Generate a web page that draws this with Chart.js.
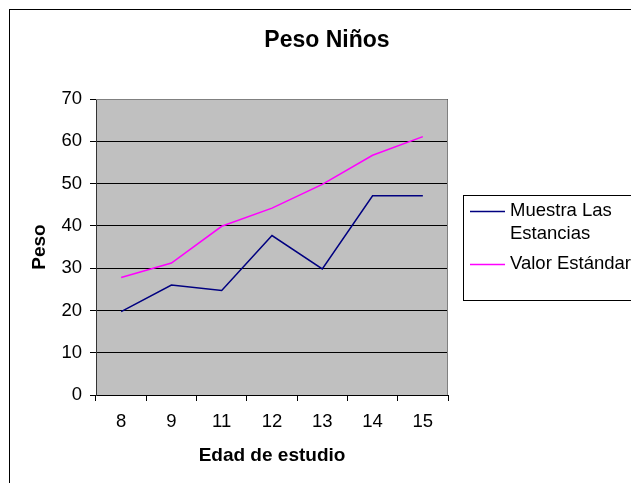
<!DOCTYPE html>
<html>
<head>
<meta charset="utf-8">
<script src="https://cdn.jsdelivr.net/npm/chart.js@4/dist/chart.umd.min.js"></script>
<style>
  html, body { margin: 0; padding: 0; background: #ffffff; overflow: hidden; }
  canvas { display: block; }
</style>
</head>
<body>
<canvas id="chart" width="631" height="483"></canvas>
<script>
// Edad de estudio (años)
const categories = ['8', '9', '11', '12', '13', '14', '15'];
// Peso medido en la muestra
const muestraLasEstancias = [19.7, 26.0, 24.7, 37.7, 29.8, 47.1, 47.1];
// Peso de referencia
const valorEstandar = [27.8, 31.2, 39.9, 44.2, 49.8, 56.7, 61.1];
const yTicks = [0, 10, 20, 30, 40, 50, 60, 70];

const chartTitle = 'Peso Niños';
const xTitle = 'Edad de estudio';
const yTitle = 'Peso';
const seriesNames = ['Muestra Las Estancias', 'Valor Estándar'];

const FONT = '"Liberation Sans", Arial, sans-serif';

// Fondo gris del área de trazado, marco exterior y título
const framePlugin = {
  id: 'frame',
  beforeDraw(chart) {
    const { ctx, chartArea: a } = chart;
    ctx.save();
    ctx.fillStyle = '#ffffff';
    ctx.fillRect(0, 0, chart.width, chart.height);
    ctx.fillStyle = '#c0c0c0';
    ctx.fillRect(a.left, a.top, a.right - a.left, a.bottom - a.top);
    ctx.strokeStyle = '#000000';
    ctx.lineWidth = 1;
    ctx.strokeRect(9.5, 9.5, chart.width + 20, chart.height + 20);
    ctx.fillStyle = '#000000';
    ctx.font = 'bold 23px ' + FONT;
    ctx.textAlign = 'center';
    ctx.textBaseline = 'middle';
    ctx.fillText(chartTitle, 327, 41);
    ctx.restore();
  },
  afterDatasetsDraw(chart) {
    const { ctx, chartArea: a } = chart;
    ctx.save();
    ctx.strokeStyle = '#808080';
    ctx.lineWidth = 1;
    ctx.beginPath();
    ctx.moveTo(a.left, Math.round(a.top) + 0.5);
    ctx.lineTo(Math.round(a.right) - 0.5, Math.round(a.top) + 0.5);
    ctx.lineTo(Math.round(a.right) - 0.5, a.bottom);
    ctx.stroke();
    ctx.restore();
  }
};

// Leyenda con recuadro a la derecha
const boxLegendPlugin = {
  id: 'boxLegend',
  afterDraw(chart) {
    const { ctx } = chart;
    const box = { x: 463.5, y: 195.5, w: 300, h: 105 };
    ctx.save();
    ctx.fillStyle = '#ffffff';
    ctx.fillRect(box.x, box.y, box.w, box.h);
    ctx.strokeStyle = '#000000';
    ctx.lineWidth = 1;
    ctx.strokeRect(box.x, box.y, box.w, box.h);
    ctx.font = '18.5px ' + FONT;
    ctx.textAlign = 'left';
    ctx.textBaseline = 'middle';
    const maxW = 130;
    const lineH = 22.6;
    let y = 211;
    chart.data.datasets.forEach(ds => {
      // partir la etiqueta en renglones
      const words = ds.label.split(' ');
      const lines = [];
      let cur = '';
      words.forEach(w => {
        const t = cur ? cur + ' ' + w : w;
        if (cur && ctx.measureText(t).width > maxW) { lines.push(cur); cur = w; }
        else cur = t;
      });
      if (cur) lines.push(cur);
      ctx.strokeStyle = ds.borderColor;
      ctx.lineWidth = 1.5;
      ctx.beginPath();
      ctx.moveTo(470, Math.round(y) + 0.5);
      ctx.lineTo(505, Math.round(y) + 0.5);
      ctx.stroke();
      ctx.fillStyle = '#000000';
      lines.forEach((ln, i) => ctx.fillText(ln, 510, y + i * lineH));
      y += lines.length * lineH + 7.5;
    });
    ctx.restore();
  }
};

new Chart(document.getElementById('chart'), {
  type: 'line',
  data: {
    labels: categories,
    datasets: [
      {
        label: seriesNames[0],
        data: muestraLasEstancias,
        borderColor: '#000080',
        borderWidth: 1.5,
        pointRadius: 0,
        tension: 0,
        fill: false
      },
      {
        label: seriesNames[1],
        data: valorEstandar,
        borderColor: '#ff00ff',
        borderWidth: 1.5,
        pointRadius: 0,
        tension: 0,
        fill: false
      }
    ]
  },
  options: {
    responsive: false,
    devicePixelRatio: 1,
    animation: false,
    events: [],
    layout: { padding: { left: 10, top: 99, right: 183, bottom: 0 } },
    plugins: {
      legend: { display: false },
      title: { display: false },
      tooltip: { enabled: false }
    },
    scales: {
      x: {
        type: 'category',
        offset: true,
        afterFit(scale) { scale.height = 88; },
        grid: {
          offset: true,
          drawOnChartArea: false,
          drawTicks: true,
          tickLength: 6,
          color: '#000000'
        },
        border: { display: true, color: '#000000', width: 1 },
        ticks: {
          color: '#000000',
          font: { family: FONT, size: 18.5 },
          padding: 10,
          maxRotation: 0
        },
        title: {
          display: true,
          text: xTitle,
          color: '#000000',
          font: { family: FONT, size: 19, weight: 'bold' },
          padding: { top: 0, bottom: 15.5 }
        }
      },
      y: {
        min: 0,
        max: 70,
        afterFit(scale) { scale.width = 86; },
        afterBuildTicks(scale) { scale.ticks = yTicks.map(v => ({ value: v })); },
        grid: {
          color: '#000000',
          lineWidth: 1,
          tickLength: 6
        },
        border: { display: true, color: '#333333', width: 1 },
        ticks: {
          color: '#000000',
          font: { family: FONT, size: 18.5 },
          padding: 8
        },
        title: {
          display: true,
          text: yTitle,
          color: '#000000',
          font: { family: FONT, size: 19, weight: 'bold' },
          padding: { top: 18, bottom: 0 }
        }
      }
    }
  },
  plugins: [framePlugin, boxLegendPlugin]
});
</script>
</body>
</html>
